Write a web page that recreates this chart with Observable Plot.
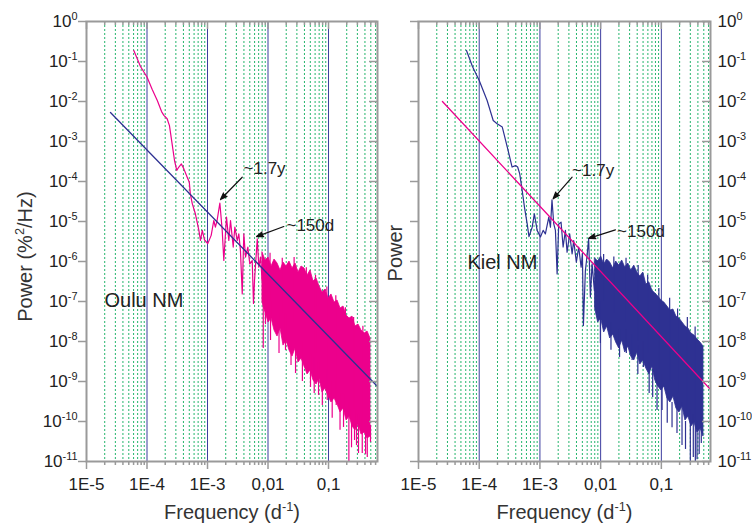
<!DOCTYPE html>
<html><head><meta charset="utf-8">
<script src="https://cdn.jsdelivr.net/npm/d3@7"></script>
<script src="https://cdn.jsdelivr.net/npm/@observablehq/plot@0.6"></script>
<style>
html,body{margin:0;padding:0;background:#fff;}
#wrap{display:flex;width:752px;height:529px;overflow:hidden;background:#fff;}
#wrap svg{overflow:visible;}
</style></head><body><div id="wrap"></div>
<script>
// ---------- axis ticks / labels ----------
const xMajor = [1e-5, 1e-4, 1e-3, 1e-2, 1e-1];
const xLabels = ["1E-5", "1E-4", "1E-3", "0,01", "0,1"];
const decadeLines = [1e-4, 1e-3, 1e-2, 1e-1];
const yTickValues = [1, 1e-1, 1e-2, 1e-3, 1e-4, 1e-5, 1e-6, 1e-7, 1e-8, 1e-9, 1e-10, 1e-11];
const yTickLabels = ["10^{0}", "10^{-1}", "10^{-2}", "10^{-3}", "10^{-4}", "10^{-5}", "10^{-6}", "10^{-7}", "10^{-8}", "10^{-9}", "10^{-10}", "10^{-11}"];

// ---------- Oulu NM (left) ----------
const ouluLineF = [6.05e-5, 7.8e-5, 1.0e-4, 1.22e-4, 1.48e-4, 1.74e-4, 1.9e-4, 2.15e-4, 2.35e-4, 2.6e-4, 2.85e-4, 3.1e-4, 3.36e-4, 3.7e-4, 4.05e-4, 4.6e-4, 5.0e-4, 5.2e-4, 5.6e-4, 6.3e-4, 7.2e-4, 7.65e-4, 8.2e-4, 8.9e-4, 1.01e-3, 1.15e-3, 1.27e-3, 1.35e-3, 1.44e-3, 1.6e-3, 1.75e-3, 1.86e-3, 2.06e-3, 2.25e-3, 2.4e-3, 2.66e-3, 2.83e-3, 3.1e-3, 3.29e-3, 3.5e-3, 3.75e-3, 3.98e-3, 4.25e-3, 4.64e-3, 5.0e-3, 5.48e-3, 5.75e-3, 5.98e-3, 6.64e-3, 7.05e-3, 7.52e-3, 8.0e-3, 8.75e-3, 9.1e-3];
const ouluLineP = [0.188, 0.075, 0.041, 0.02, 0.0106, 5.6e-3, 4.5e-3, 3.7e-3, 2.5e-3, 8.7e-4, 3.35e-4, 1.9e-4, 2.3e-4, 2.75e-4, 2.1e-4, 1.3e-4, 9.6e-5, 4.9e-5, 2.8e-5, 1.56e-5, 6e-6, 3.35e-6, 6e-6, 3.5e-6, 2.8e-6, 4.5e-6, 1.06e-5, 7.2e-6, 1.06e-5, 2.9e-5, 6e-6, 1.06e-6, 1.29e-5, 3.35e-6, 1.06e-5, 2.3e-6, 7.2e-6, 3.35e-6, 4.9e-6, 1.9e-6, 1.55e-7, 4.9e-6, 1.29e-6, 2.3e-6, 8.7e-7, 1.06e-6, 8.9e-8, 3.35e-7, 3.7e-6, 7.2e-7, 1.29e-6, 3.35e-7, 8.7e-7, 2.8e-8];

// dense high-frequency part: frequencies shared by both stations
const bandF = [8.11e-3, 9.10e-3, 0.0102, 0.01143, 0.0128, 0.01436, 0.0161, 0.01803, 0.0202, 0.02265, 0.0254, 0.0285, 0.0319, 0.0358, 0.0401, 0.045, 0.0504, 0.0565, 0.0634, 0.071, 0.0796, 0.0891, 0.1, 0.112, 0.1257, 0.141, 0.158, 0.177, 0.1986, 0.2225, 0.2495, 0.279, 0.313, 0.351, 0.394, 0.4416, 0.494];
const ouluHi = [1.68e-6, 1.06e-6, 1.26e-6, 7.5e-7, 1.12e-6, 8.9e-7, 5.96e-7, 9.4e-7, 7.5e-7, 1.0e-6, 6.7e-7, 8.9e-7, 5.3e-7, 7.5e-7, 6.7e-7, 4.47e-7, 5.96e-7, 3.16e-7, 3.76e-7, 2.37e-7, 1.68e-7, 2.0e-7, 1.19e-7, 1.5e-7, 9.4e-8, 1.06e-7, 6.7e-8, 7.5e-8, 4.47e-8, 3.76e-8, 4.2e-8, 2.37e-8, 2.66e-8, 1.88e-8, 1.58e-8, 1.78e-8, 1.19e-8];
const ouluLo = [9.4e-8, 5.3e-8, 2.99e-8, 3.76e-8, 1.88e-8, 1.33e-8, 2.11e-8, 7.9e-9, 1.06e-8, 5.96e-9, 4.2e-9, 6.7e-9, 2.99e-9, 3.76e-9, 2.37e-9, 1.5e-9, 1.88e-9, 1.06e-9, 8.4e-10, 1.19e-9, 5.3e-10, 6.7e-10, 4.2e-10, 2.99e-10, 3.76e-10, 2.66e-10, 1.68e-10, 2.11e-10, 1.06e-10, 1.33e-10, 7.5e-11, 5.96e-11, 8.4e-11, 4.7e-11, 5.3e-11, 3.76e-11, 4.2e-11];
const ouluSpikeF = [8.34e-3, 0.011, 0.01945, 0.0285, 0.0504, 0.0684, 0.0953, 0.134, 0.177, 0.217, 0.269, 0.313, 0.361, 0.437, 0.494, 0.0152, 0.024, 0.037, 0.058, 0.079, 0.115, 0.155, 0.24, 0.29, 0.41];
const ouluSpikeP = [6.7e-9, 1.06e-8, 5.96e-9, 1.58e-9, 7.1e-10, 4.5e-10, 3.35e-10, 2.5e-10, 7.1e-11, 1e-11, 3.35e-11, 1.58e-11, 1.58e-11, 1.26e-11, 2.99e-11, 5e-9, 2.5e-9, 1e-9, 5e-10, 2.5e-10, 1.2e-10, 6e-11, 2.2e-11, 2.5e-11, 1.5e-11];
const ouluSpikeTop = [3e-7, 1e-7, 5e-8, 2e-8, 5e-9, 3e-9, 2e-9, 1e-9, 5e-10, 3e-10, 2e-10, 1.5e-10, 1.2e-10, 1e-10, 8e-11, 5e-8, 2e-8, 1e-8, 4e-9, 2e-9, 1e-9, 5e-10, 2e-10, 1.5e-10, 1e-10];
const ouluUpF = [0.0108, 0.0172, 0.027, 0.043, 0.061, 0.094, 0.132, 0.19, 0.26, 0.37];
const ouluUpP = [1.6e-6, 1.2e-6, 1.25e-6, 7e-7, 4.5e-7, 2.3e-7, 1.4e-7, 7e-8, 4e-8, 2.4e-8];
const ouluUpBase = [1e-7, 5e-8, 3e-8, 1e-8, 5e-9, 2e-9, 1e-9, 5e-10, 2e-10, 1e-10];
const ouluFitF = [2.49e-5, 0.645];
const ouluFitP = [5.3e-3, 7.5e-10];

// ---------- Kiel NM (right) ----------
const kielLineF = [6.17e-5, 7.74e-5, 1.0e-4, 1.35e-4, 1.7e-4, 1.97e-4, 2.4e-4, 2.9e-4, 3.48e-4, 3.96e-4, 4.3e-4, 4.65e-4, 5.1e-4, 5.56e-4, 6.17e-4, 6.6e-4, 7.45e-4, 8.1e-4, 9.0e-4, 1.02e-3, 1.13e-3, 1.23e-3, 1.40e-3, 1.49e-3, 1.58e-3, 1.69e-3, 1.8e-3, 1.92e-3, 2.04e-3, 2.23e-3, 2.41e-3, 2.63e-3, 2.8e-3, 3.09e-3, 3.39e-3, 3.6e-3, 3.98e-3, 4.35e-3, 4.77e-3, 5.01e-3, 5.2e-3, 5.61e-3, 5.98e-3, 6.35e-3, 6.78e-3, 7.23e-3, 7.89e-3, 8.75e-3];
const kielLineP = [0.188, 0.075, 0.0335, 0.0106, 3.35e-3, 2.77e-3, 2.3e-3, 7.2e-4, 2.3e-4, 2.5e-4, 2.3e-4, 1.55e-4, 6e-5, 2.3e-5, 8.7e-6, 4.2e-6, 7.2e-6, 1.56e-5, 6e-6, 4.1e-6, 6e-6, 4.9e-6, 1.29e-5, 7.2e-6, 3.5e-5, 8.7e-6, 6e-6, 4.9e-7, 8.7e-6, 9.6e-6, 2.3e-6, 6e-6, 1.7e-6, 4.9e-6, 1.55e-6, 3.35e-6, 9.6e-7, 2.3e-6, 7.2e-7, 1.58e-6, 2.5e-8, 5.96e-7, 1.41e-6, 3.7e-6, 1.29e-7, 8.7e-7, 1.88e-7, 1.06e-6];
const kielHi = [1.19e-6, 1.0e-6, 1.33e-6, 8.4e-7, 1.12e-6, 9.4e-7, 6.7e-7, 1.0e-6, 7.9e-7, 1.06e-6, 7.1e-7, 8.9e-7, 5.96e-7, 7.9e-7, 5.3e-7, 4.2e-7, 5.3e-7, 2.66e-7, 3.0e-7, 1.88e-7, 1.58e-7, 1.33e-7, 1.06e-7, 9.4e-8, 7.5e-8, 5.96e-8, 6.3e-8, 4.2e-8, 3.76e-8, 2.99e-8, 2.37e-8, 2.11e-8, 1.58e-8, 1.41e-8, 1.12e-8, 9.4e-9, 7.5e-9];
const kielLo = [6.7e-8, 2.99e-8, 3.76e-8, 1.68e-8, 2.37e-8, 1.19e-8, 1.5e-8, 9.4e-9, 6.7e-9, 1.06e-8, 5.3e-9, 7.5e-9, 4.2e-9, 3.35e-9, 5.3e-9, 2.66e-9, 3.35e-9, 2.11e-9, 1.5e-9, 2.37e-9, 1.06e-9, 7.5e-10, 5.96e-10, 7.5e-10, 3.76e-10, 2.99e-10, 4.2e-10, 2.11e-10, 1.68e-10, 2.37e-10, 1.06e-10, 1.33e-10, 7.5e-11, 9.4e-11, 5.3e-11, 6.7e-11, 4.2e-11];
const kielSpikeF = [9.9e-3, 0.0265, 0.033, 0.0506, 0.0849, 0.1028, 0.181, 0.219, 0.30, 0.336, 0.363, 0.387, 0.455, 0.0148, 0.0205, 0.041, 0.063, 0.072, 0.125, 0.15, 0.25, 0.42];
const kielSpikeP = [8.9e-9, 5.0e-9, 3.35e-9, 2.24e-9, 1.88e-10, 1.88e-10, 5e-11, 2.5e-11, 1e-11, 1.26e-11, 1e-11, 1.1e-11, 2.8e-11, 6e-9, 4e-9, 1.5e-9, 5e-10, 4e-10, 9e-11, 7e-11, 2e-11, 1.5e-11];
const kielSpikeTop = [1e-7, 2e-8, 1.5e-8, 1e-8, 2e-9, 1.5e-9, 4e-10, 3e-10, 2e-10, 1.5e-10, 1.2e-10, 1e-10, 8e-11, 3e-8, 2e-8, 8e-9, 3e-9, 2e-9, 5e-10, 3e-10, 1e-10, 7e-11];
const kielUpF = [0.0112, 0.0165, 0.0262, 0.0415, 0.0595, 0.091, 0.137, 0.185, 0.268, 0.36];
const kielUpP = [1.5e-6, 1.3e-6, 1.2e-6, 8e-7, 4.5e-7, 2.1e-7, 1.2e-7, 6.5e-8, 4e-8, 2.3e-8];
const kielUpBase = [1e-7, 5e-8, 3e-8, 1e-8, 5e-9, 2e-9, 1e-9, 5e-10, 2e-10, 1e-10];
const kielFitF = [2.48e-5, 0.645];
const kielFitP = [1.0e-2, 6.3e-10];

// ---------- annotations ----------
const noteText = ["~1.7y", "~150d"];
const ouluNoteF = [3.94e-3, 0.0202], ouluNoteP = [2.1e-4, 7.9e-6];
const ouluArrowF1 = [3.75e-3, 0.01825], ouluArrowP1 = [1.28e-4, 7.5e-6];
const ouluArrowF2 = [1.64e-3, 6.46e-3], ouluArrowP2 = [3.55e-5, 4.2e-6];
const kielNoteF = [3.39e-3, 0.01866], kielNoteP = [1.88e-4, 5.6e-6];
const kielArrowF1 = [3.39e-3, 0.0175], kielArrowP1 = [1.28e-4, 6.2e-6];
const kielArrowF2 = [1.65e-3, 6.35e-3], kielArrowP2 = [3.7e-5, 3.8e-6];

const PINK = "#ec008c", NAVY = "#2e3192";
const FONT = "'Liberation Sans', Arial, Helvetica, sans-serif";
const H = 529, MT = 21, MB = 68;

function panel(o) {
  const iw = o.width - o.ml - o.mr, ih = H - MT - MB;
  const xs = d3.scaleLog().domain([1e-5, 0.645]);
  const xMinor = xs.ticks().filter(t => Math.round(t / Math.pow(10, Math.floor(Math.log10(t) + 1e-9))) !== 1);
  const idx = n => ({length: n});
  const yFmt = d => yTickLabels[yTickValues.findIndex(v => Math.abs(Math.log10(v) - Math.log10(d)) < 1e-6)];
  const xFmt = d => xLabels[xMajor.findIndex(v => Math.abs(Math.log10(v) - Math.log10(d)) < 1e-6)];
  const tickStyle = {stroke: "#9a9a9a", strokeWidth: 1.5};
  const marks = [
    Plot.ruleX(xMinor, {stroke: "#25b56c", strokeDasharray: "2,2", strokeWidth: 1}),
    Plot.ruleX(decadeLines, {stroke: "#3d3d9f", strokeWidth: 1}),
    Plot.areaY(idx(bandF.length), {x: bandF, y1: o.lo, y2: o.hi, fill: o.color, stroke: o.color, strokeWidth: 0.8, clip: true}),
    Plot.ruleX(idx(o.spikeF.length), {x: o.spikeF, y1: o.spikeP, y2: o.spikeTop, stroke: o.color, strokeWidth: 1.2, clip: true}),
    Plot.ruleX(idx(o.upF.length), {x: o.upF, y1: o.upBase, y2: o.upP, stroke: o.color, strokeWidth: 1.2, clip: true}),
    Plot.line(idx(o.lineF.length), {x: o.lineF, y: o.lineP, stroke: o.color, strokeWidth: 1.2, clip: true}),
    Plot.line(idx(2), {x: o.fitF, y: o.fitP, stroke: o.fitColor, strokeWidth: 1.3, clip: true}),
    Plot.frame({stroke: "#9a9a9a", strokeWidth: 2}),
    // bottom ticks (outward)
    Plot.tickX(xMajor, {...tickStyle, insetTop: ih - 8, dy: 8}),
    Plot.tickX(xMinor, {...tickStyle, insetTop: ih - 4, dy: 4}),
    // top ticks (inward)
    Plot.tickX(xMajor, {...tickStyle, insetBottom: ih - 8}),
    Plot.tickX(xMinor, {...tickStyle, insetBottom: ih - 4}),
    // y ticks: left outward, right inward
    Plot.tickY(yTickValues, {...tickStyle, insetRight: iw - 8, dx: -8}),
    Plot.tickY(yTickValues, {...tickStyle, insetLeft: iw - 8}),
    Plot.axisX(xMajor, {anchor: "bottom", tickSize: 0, tickPadding: 16, tickFormat: xFmt, fontSize: 17, fill: "#222", label: null}),
    Plot.axisY(yTickValues, {anchor: o.yAnchor, tickSize: 0, tickPadding: o.yAnchor === "left" ? 9 : 7, tickFormat: yFmt, fontSize: 17, fill: "#222", label: null}),
    Plot.text(["Frequency (d^{-1})"], {frameAnchor: "bottom", dy: 57.5, fontSize: 20, fill: "#333"}),
    Plot.text([o.yLabel], {frameAnchor: "left", y: () => o.yLabY, dx: o.yLabDx, rotate: -90, textAnchor: "middle", fontSize: 20, fill: "#333"}),
    Plot.text([o.name], {x: [o.nameF], y: [o.nameP], textAnchor: "start", fontSize: 20, fill: "#222"}),
    Plot.text(noteText, {x: o.noteF, y: o.noteP, textAnchor: "start", fontSize: 17, fill: "#222"}),
    Plot.arrow(idx(2), {x1: o.aF1, y1: o.aP1, x2: o.aF2, y2: o.aP2, stroke: "#111", fill: "#111", strokeWidth: 1.2, headLength: 9, headAngle: 40})
  ];
  return Plot.plot({
    width: o.width, height: H,
    marginTop: MT, marginBottom: MB, marginLeft: o.ml, marginRight: o.mr,
    x: {type: "log", domain: [1e-5, 0.645]},
    y: {type: "log", domain: [1e-11, 1]},
    style: {fontFamily: FONT, fontSize: "17px", color: "#222", background: "#fff", overflow: "visible"},
    marks
  });
}

function supify(svg) {
  svg.querySelectorAll("text").forEach(t => {
    const s = t.textContent;
    if (!s.includes("^{")) return;
    const fs = parseFloat(getComputedStyle(t).fontSize) || 17;
    const parts = [];
    const re = /\^\{([^}]*)\}/g;
    let last = 0, m;
    while ((m = re.exec(s))) {
      if (m.index > last) parts.push({t: s.slice(last, m.index), sup: false});
      parts.push({t: m[1], sup: true});
      last = re.lastIndex;
    }
    if (last < s.length) parts.push({t: s.slice(last), sup: false});
    while (t.firstChild) t.removeChild(t.firstChild);
    const shift = fs * 0.42;
    let raised = false;
    parts.forEach(p => {
      const ts = document.createElementNS("http://www.w3.org/2000/svg", "tspan");
      ts.textContent = p.t;
      if (p.sup) {
        ts.setAttribute("font-size", (fs * 0.64).toFixed(1));
        ts.setAttribute("dy", (-shift).toFixed(1));
        raised = true;
      } else if (raised) {
        ts.setAttribute("dy", shift.toFixed(1));
        raised = false;
      }
      t.appendChild(ts);
    });
  });
}

const wrap = document.getElementById("wrap");
const left = panel({
  width: 385, ml: 86, mr: 8, color: PINK, fitColor: NAVY,
  lineF: ouluLineF, lineP: ouluLineP, hi: ouluHi, lo: ouluLo,
  spikeF: ouluSpikeF, spikeP: ouluSpikeP, spikeTop: ouluSpikeTop,
  upF: ouluUpF, upP: ouluUpP, upBase: ouluUpBase,
  fitF: ouluFitF, fitP: ouluFitP, yAnchor: "left",
  yLabel: "Power (%^{2}/Hz)", yLabDx: -60.5, yLabY: 1.33e-6,
  name: "Oulu NM", nameF: 1.98e-5, nameP: 1.03e-7,
  noteF: ouluNoteF, noteP: ouluNoteP,
  aF1: ouluArrowF1, aP1: ouluArrowP1, aF2: ouluArrowF2, aP2: ouluArrowP2
});
const right = panel({
  width: 367, ml: 33, mr: 42, color: NAVY, fitColor: PINK,
  lineF: kielLineF, lineP: kielLineP, hi: kielHi, lo: kielLo,
  spikeF: kielSpikeF, spikeP: kielSpikeP, spikeTop: kielSpikeTop,
  upF: kielUpF, upP: kielUpP, upBase: kielUpBase,
  fitF: kielFitF, fitP: kielFitP, yAnchor: "right",
  yLabel: "Power", yLabDx: -23, yLabY: 1.62e-6,
  name: "Kiel NM", nameF: 6.4e-5, nameP: 9.2e-7,
  noteF: kielNoteF, noteP: kielNoteP,
  aF1: kielArrowF1, aP1: kielArrowP1, aF2: kielArrowF2, aP2: kielArrowP2
});
wrap.appendChild(left);
wrap.appendChild(right);
supify(left);
supify(right);
</script></body></html>
